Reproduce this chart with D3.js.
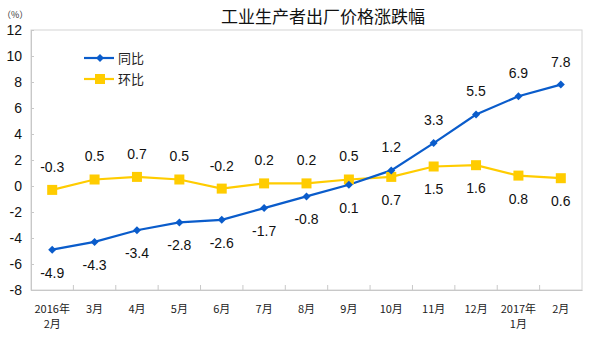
<!DOCTYPE html>
<html><head><meta charset="utf-8">
<script src="https://cdn.jsdelivr.net/npm/d3@7"></script>
<style>body{margin:0;background:#fff}svg{display:block}</style>
</head><body>
<svg id="c" width="600" height="346"></svg>
<script>
const categories = ["2016年\n2月","3月","4月","5月","6月","7月","8月","9月","10月","11月","12月","2017年\n1月","2月"];
const yoy = [-4.9,-4.3,-3.4,-2.8,-2.6,-1.7,-0.8,0.1,1.2,3.3,5.5,6.9,7.8];
const mom = [-0.3,0.5,0.7,0.5,-0.2,0.2,0.2,0.5,0.7,1.5,1.6,0.8,0.6];
const yTicks = [-8,-6,-4,-2,0,2,4,6,8,10,12];
const seriesNames = ["同比","环比"];
const title = "工业生产者出厂价格涨跌幅";
const unit = "（%）";

const svg = d3.select("#c");
const L = 31, R = 582, T = 30, B = 290;
const latin = "Arial, 'Liberation Sans', sans-serif";
const cjk = "'Noto Sans CJK SC', sans-serif";
const blue = "#0A5CCB", yellow = "#FFCC00";

const x = d3.scaleBand().domain(categories).range([L, R]);
const y = d3.scaleLinear().domain([-8, 12]).range([B, T]);
const cx = d => x(d) + x.bandwidth() / 2;

// plot border
svg.append("rect").attr("x", L).attr("y", T).attr("width", R - L).attr("height", B - T)
  .attr("fill", "none").attr("stroke", "#d4d4d4").attr("stroke-width", 1);

// y axis
const ya = svg.append("g").attr("transform", `translate(${L},0)`)
  .call(d3.axisRight(y).tickValues(yTicks).tickSize(3).tickFormat(""));
ya.selectAll("path,line").attr("stroke", "#c8c8c8");
svg.append("g").selectAll("text").data(yTicks).join("text")
  .attr("x", 22).attr("y", d => y(d)).attr("dy", "0.35em").attr("text-anchor", "end")
  .attr("font-family", latin).attr("font-size", 14).attr("fill", "#111").text(d => d);

// x axis
const xa = svg.append("g").attr("transform", `translate(0,${B})`)
  .call(d3.axisTop(x).tickSize(0).tickFormat(""));
xa.selectAll("path").attr("stroke", "#c8c8c8");
svg.append("g").selectAll("line").data(categories.slice(1)).join("line")
  .attr("x1", d => x(d)).attr("x2", d => x(d)).attr("y1", B).attr("y2", B - 5)
  .attr("stroke", "#c8c8c8");
const xl = svg.append("g").selectAll("text").data(categories).join("text")
  .attr("x", d => cx(d)).attr("y", 313).attr("text-anchor", "middle")
  .attr("font-family", cjk).attr("font-size", 11).attr("fill", "#222");
xl.each(function(d) {
  const parts = d.split("\n");
  d3.select(this).selectAll("tspan").data(parts).join("tspan")
    .attr("x", cx(d)).attr("dy", (p, i) => i ? 15 : 0).text(p => p);
});

// lines
const line = d3.line().x((d, i) => cx(categories[i])).y(d => y(d));
svg.append("path").datum(mom).attr("d", line).attr("fill", "none").attr("stroke", yellow).attr("stroke-width", 2.2);
svg.append("path").datum(yoy).attr("d", line).attr("fill", "none").attr("stroke", blue).attr("stroke-width", 2.2);

// markers
svg.append("g").selectAll("rect").data(mom).join("rect")
  .attr("x", (d, i) => cx(categories[i]) - 5).attr("y", d => y(d) - 5)
  .attr("width", 10).attr("height", 10).attr("fill", yellow);
const diamond = d3.symbol().type(d3.symbolDiamond2).size(60);
svg.append("g").selectAll("path").data(yoy).join("path")
  .attr("transform", (d, i) => `translate(${cx(categories[i])},${y(d)}) rotate(0)`)
  .attr("d", d3.symbol().type(d3.symbolSquare).size(32)).attr("transform", (d, i) => `translate(${cx(categories[i])},${y(d)}) rotate(45)`)
  .attr("fill", blue);

// labels: placed on the side away from the other series
function labels(vals, other) {
  svg.append("g").selectAll("text").data(vals).join("text")
    .attr("x", (d, i) => cx(categories[i]))
    .attr("y", (d, i) => y(d) + (d >= other[i] ? -23 : 23))
    .attr("dy", "0.35em").attr("text-anchor", "middle")
    .attr("font-family", latin).attr("font-size", 14).attr("fill", "#111")
    .text(d => d.toFixed(1));
}
labels(mom, yoy);
labels(yoy, mom);

// legend
const leg = [{n: seriesNames[0], c: blue, t: "d"}, {n: seriesNames[1], c: yellow, t: "s"}];
leg.forEach((s, i) => {
  const ly = 58 + i * 21;
  svg.append("line").attr("x1", 84).attr("x2", 114).attr("y1", ly).attr("y2", ly)
    .attr("stroke", s.c).attr("stroke-width", 2.2);
  if (s.t === "s") svg.append("rect").attr("x", 95).attr("y", ly - 5).attr("width", 10).attr("height", 10).attr("fill", s.c);
  else svg.append("path").attr("d", d3.symbol().type(d3.symbolSquare).size(32)())
    .attr("transform", `translate(100,${ly}) rotate(45)`).attr("fill", s.c);
  svg.append("text").attr("x", 118).attr("y", ly).attr("dy", "0.35em")
    .attr("font-family", cjk).attr("font-size", 13).attr("fill", "#222").text(s.n);
});

// title & unit
svg.append("text").attr("x", 323).attr("y", 17).attr("dy", "0.35em").attr("text-anchor", "middle")
  .attr("font-family", cjk).attr("font-size", 17).attr("fill", "#111").text(title);
svg.append("text").attr("x", 2).attr("y", 15).attr("dy", "0.35em")
  .attr("font-family", cjk).attr("font-size", 9).attr("fill", "#333").text(unit);
</script>
</body></html>
